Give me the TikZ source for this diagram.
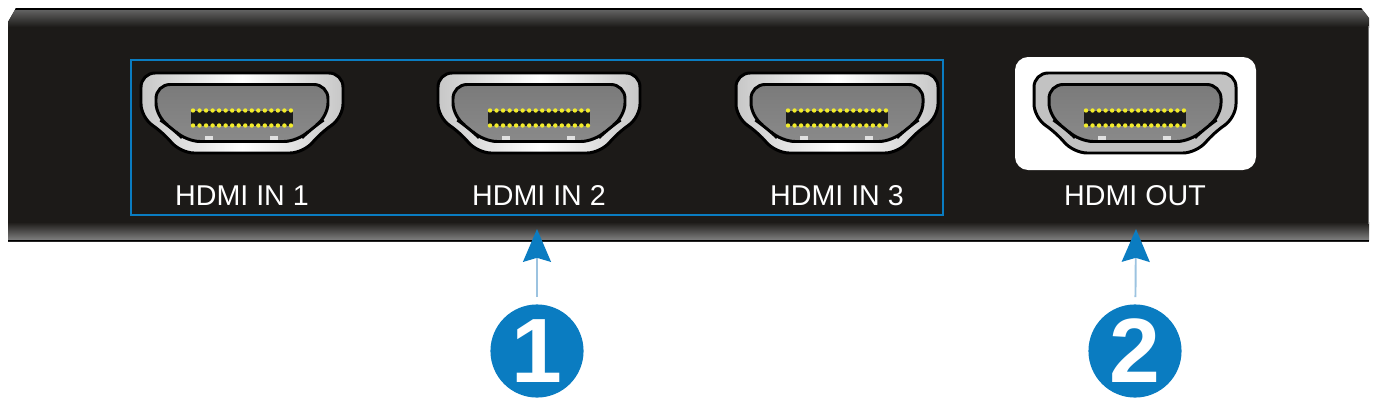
\documentclass[tikz,border=0pt]{standalone}
\usepackage{fontspec}
\setmainfont{Liberation Sans}
\usetikzlibrary{arrows.meta}
\definecolor{panelblack}{HTML}{1C1A18}
\definecolor{calloutblue}{HTML}{0A7CC1}
\definecolor{shaftblue}{HTML}{9CC3E0}
\definecolor{rimgray}{HTML}{C2C2C2}
\definecolor{pinyellow}{HTML}{F2EC2A}
\tikzset{
  rim shiny/.style={left color=black!22,right color=black!22,middle color=white},
  rim flat/.style={fill=rimgray},
  port label/.style={text=white,inner sep=0pt,anchor=base,font=\fontsize{16.3}{18}\selectfont},
  callout/.style={circle,fill=calloutblue,text=white,inner sep=0pt,minimum size=53pt,font=\bfseries\fontsize{52}{54}\selectfont},
  pointer/.style={draw=shaftblue,line width=1.1pt,shorten <=4pt,-{Stealth[length=18.7pt,width=15.9pt,inset=2.3pt,color=calloutblue]}},
  hdmi port/.pic={
    \draw [#1,draw=black,line width=1.7pt,rounded corners=8pt] (0,-40) -- (101,-40) -- (101,5) -- (79,19) -- (62,40) -- (-62,40) -- (-79,19) -- (-101,5) -- (-101,-40) -- cycle;
    \draw [top color=black!52,bottom color=black!46,draw=black,line width=1.7pt,rounded corners=8pt] (0,-28.5) -- (86,-28.5) -- (86,4) -- (70,15) -- (56,28.5) -- (-56,28.5) -- (-70,15) -- (-86,4) -- (-86,-28.5) -- cycle;
    \fill [black!90] (-51,-2) rectangle (51,13);
    \foreach \i in {0,...,15} {
      \fill [pinyellow] (-49+6.53*\i,-2.5) circle (1.25pt);
      \fill [pinyellow] (-49+6.53*\i,12.5) circle (1.25pt);
    }
    \fill [black!12] (-37,23) rectangle (-29,27);
    \fill [black!12] (28,23) rectangle (36,27);
  }
}

\begin{document}
\begin{tikzpicture}[x=0.02cm,y=-0.02cm]
  \useasboundingbox (0,0) rectangle (1380,403);

  % housing
  \begin{scope}
    \clip (8,22) -- (16,8) -- (1361,8) -- (1369,18) -- (1369,241.5) -- (8,241.5) -- cycle;
    \fill [panelblack] (8,8) rectangle (1369,241.5);
    \shade [top color=black!62,bottom color=panelblack] (8,10) rectangle (1369,27);
    \shade [top color=panelblack,bottom color=black!50] (8,222) rectangle (1369,240);
    \fill [black] (8,8) rectangle (1369,10);
    \fill [black] (8,240) rectangle (1369,241.5);
    \fill [black!55] (1367.5,26) rectangle (1369,224);
  \end{scope}

  % input group and output plate
  \draw [calloutblue,line width=1.4pt] (131,60) rectangle (943,215);
  \fill [white,rounded corners=7.5pt] (1015,57) rectangle (1256,170);

  % ports
  \foreach \px/\pname in {242/1,539/2,837/3} {
    \path (\px,113) pic {hdmi port=rim shiny};
    \node [port label] (lblin\pname) at (\px,205) {HDMI IN \pname};
  }
  \path (1135,113) pic {hdmi port=rim flat};
  \node [port label] (lblout) at (1135,205) {HDMI OUT};

  % callouts
  \node [callout] (numin) at (537,351) {1};
  \node [callout] (numout) at (1135,351) {2};
  \coordinate (tipin) at (537,229);
  \coordinate (tipout) at (1136,229);
  \draw [pointer] (numin) -- (tipin);
  \draw [pointer] (numout) -- (tipout);
\end{tikzpicture}
\end{document}
